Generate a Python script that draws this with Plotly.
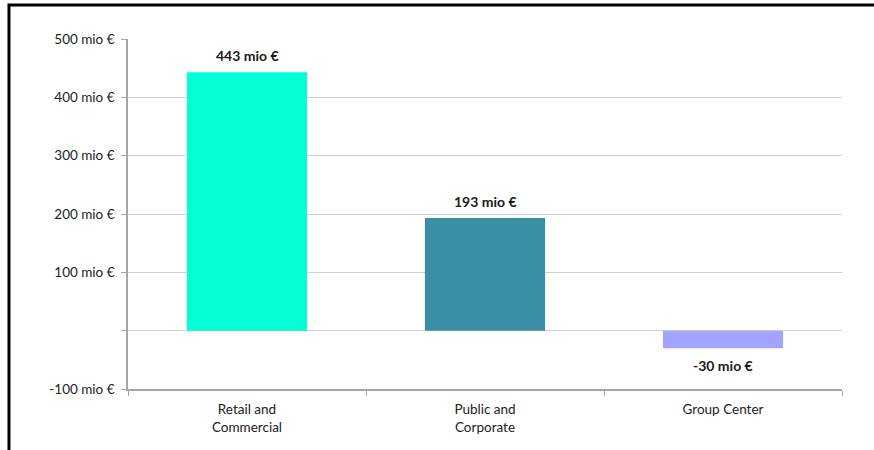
import plotly.graph_objects as go

categories = ["Retail and<br>Commercial", "Public and<br>Corporate", "Group Center"]
values = [443, 193, -30]
colors = ["#03FFD6", "#3A8FA7", "#A4A4FF"]
tick_vals = [-100, 0, 100, 200, 300, 400, 500]
tick_text = ["-100 mio €", "", "100 mio €", "200 mio €", "300 mio €", "400 mio €", "500 mio €"]

FONT = "Lato, 'Open Sans', sans-serif"

fig = go.Figure()
fig.add_trace(go.Bar(
    x=categories, y=values,
    marker=dict(color=colors, line=dict(width=0)),
    width=0.505,
    hoverinfo="skip",
))

for c, v in zip(categories, values):
    fig.add_annotation(
        x=c, y=v, text=f"<b>{v} mio €</b>", showarrow=False,
        yshift=17 if v >= 0 else -17,
        font=dict(family=FONT, size=14, color="#1a1a1a"),
    )

# outer frame
fig.add_shape(type="rect", xref="paper", yref="paper",
              x0=-0.1667, x1=1.06, y0=-0.3, y1=1.0971,
              line=dict(color="black", width=3), layer="above")

fig.update_layout(
    width=874, height=450,
    margin=dict(l=128, r=32, t=39, b=61),
    paper_bgcolor="white", plot_bgcolor="white",
    showlegend=False,
    font=dict(family=FONT, size=13, color="#222"),
    xaxis=dict(
        showline=True, linecolor="#A6A6A6", linewidth=1.5,
        ticks="outside", tickson="boundaries", ticklen=5, tickcolor="#A6A6A6",
        showgrid=False, tickfont=dict(size=13.5, color="#222"),
        ticklabelstandoff=7,
        fixedrange=True,
    ),
    yaxis=dict(
        range=[-100, 500], tickvals=tick_vals, ticktext=tick_text,
        showline=True, linecolor="#A6A6A6", linewidth=1.5,
        ticks="outside", ticklen=5, tickcolor="#A6A6A6",
        showgrid=True, gridcolor="#D0D0D0", gridwidth=1,
        zeroline=False, tickfont=dict(size=13.5, color="#222"),
        ticklabelstandoff=4,
    ),
)

fig.write_html("out.html")
